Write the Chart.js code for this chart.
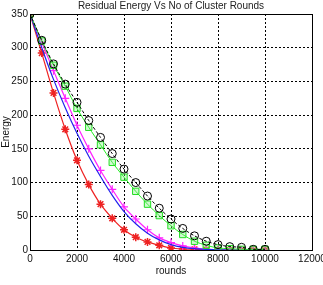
<!DOCTYPE html>
<html>
<head>
<meta charset="utf-8">
<script src="https://cdn.jsdelivr.net/npm/chart.js@4/dist/chart.umd.min.js"></script>
<style>
  html, body { margin: 0; padding: 0; background: #fff; }
  #wrap { width: 323px; height: 285px; }
</style>
</head>
<body>
<div id="wrap"><canvas id="energyChart"></canvas></div>
<script>
let rounds = [0, 500, 1000, 1500, 2000, 2500, 3000, 3500, 4000, 4500, 5000,
              5500, 6000, 6500, 7000, 7500, 8000, 8500, 9000, 9500, 10000];

let circleSeries = [350, 311, 276, 246, 219, 192, 167, 143, 120, 100, 80, 62, 46, 32, 21, 13, 8, 5, 4, 1, 1];
let squareSeries = [350, 310, 274, 243, 210, 182, 156, 130, 108, 87, 68, 51, 36, 23, 13, 7, 3, 2, 1, 1, 1];
let blueSeries   = [350, 300, 253, 211, 173, 139, 109, 81, 57, 39, 25, 15, 8, 4, 2, 1, 0.5, 0, 0, 0, 0];
let plusSeries   = [350, 308, 266, 225, 185, 150, 118, 90, 64, 46, 30, 18, 11, 6, 3, 1, 0.5, 0, 0, 0, 0];
let starSeries   = [350, 292, 233, 179, 133, 97, 68, 47, 30, 19, 12, 7, 3, 1.5, 1, 0.5, 0, 0, 0, 0, 0];

let xTicks = [0, 2000, 4000, 6000, 8000, 10000, 12000];
let yTicks = [0, 50, 100, 150, 200, 250, 300, 350];

function pts(values) {
    return rounds.map((r, i) => ({ x: r, y: values[i] }));
}

// box round the plot area
const frame = {
    id: 'frame',
    afterDraw(chart) {
        let a = chart.chartArea;
        let ctx = chart.ctx;
        ctx.save();
        ctx.strokeStyle = '#000';
        ctx.lineWidth = 1;
        ctx.strokeRect(Math.round(a.left) + 0.5, Math.round(a.top) + 0.5,
                       Math.round(a.right - a.left), Math.round(a.bottom - a.top));
        ctx.restore();
    }
};

Chart.defaults.font.family = '"Liberation Sans", Arial, sans-serif';
Chart.defaults.color = '#111';

var energyChart = new Chart(document.getElementById('energyChart'), {
    type: 'line',
    data: {
        datasets: [
            {
                data: pts(circleSeries),
                borderColor: '#000',
                borderWidth: 1,
                borderDash: [3, 2],
                pointStyle: 'circle',
                pointRadius: 4,
                pointBorderColor: '#000',
                pointBackgroundColor: 'rgba(0,0,0,0)',
                tension: 0.3
            },
            {
                data: pts(squareSeries),
                borderColor: '#22ee22',
                borderWidth: 1,
                pointStyle: 'rect',
                pointRadius: 4.5,
                pointBorderColor: '#22dd22',
                pointBackgroundColor: 'rgba(120,240,120,0.35)',
                tension: 0.3
            },
            {
                data: pts(blueSeries),
                borderColor: '#2222ee',
                borderWidth: 1.2,
                pointRadius: 0,
                tension: 0.3
            },
            {
                data: pts(plusSeries),
                borderColor: '#ff22ff',
                borderWidth: 1.2,
                pointStyle: 'cross',
                pointRadius: 4,
                pointBorderColor: '#ff22ff',
                pointBorderWidth: 1.2,
                tension: 0.3
            },
            {
                data: pts(starSeries),
                borderColor: '#ee2222',
                borderWidth: 1.2,
                pointStyle: 'star',
                pointRadius: 4,
                pointBorderColor: '#ee2222',
                pointBorderWidth: 1.5,
                tension: 0.3
            }
        ]
    },
    options: {
        responsive: true,
        maintainAspectRatio: false,
        animation: false,
        layout: { padding: { left: 0, right: 11, top: 0, bottom: 8 } },
        plugins: {
            legend: { display: false },
            tooltip: { enabled: false },
            title: {
                display: true,
                text: 'Residual Energy Vs No of Cluster Rounds',
                fullSize: false,
                color: '#222',
                font: { size: 10, weight: 'normal' },
                padding: { top: 0, bottom: 2 }
            }
        },
        scales: {
            x: {
                type: 'linear',
                min: 0,
                max: 12000,
                afterBuildTicks: (s) => { s.ticks = xTicks.map(v => ({ value: v })); },
                afterFit: (s) => { s.height = 27; s.paddingLeft = 0; s.paddingRight = 0; },
                ticks: { font: { size: 10 }, padding: 3, maxRotation: 0, callback: (v) => String(v) },
                grid: { color: '#000', lineWidth: 1, drawTicks: false },
                border: { display: true, color: '#000', dash: [2, 2] },
                title: { display: true, text: 'rounds', font: { size: 10 }, padding: 0 }
            },
            y: {
                min: 0,
                max: 350,
                afterBuildTicks: (s) => { s.ticks = yTicks.map(v => ({ value: v })); },
                afterFit: (s) => { s.width = 30; s.paddingTop = 0; s.paddingBottom = 0; },
                ticks: { font: { size: 10 }, padding: 2, callback: (v) => String(v) },
                grid: { color: '#000', lineWidth: 1, drawTicks: false },
                border: { display: true, color: '#000', dash: [2, 2] },
                title: { display: true, text: 'Energy', font: { size: 10 }, padding: 0 }
            }
        }
    },
    plugins: [frame]
});
</script>
</body>
</html>
